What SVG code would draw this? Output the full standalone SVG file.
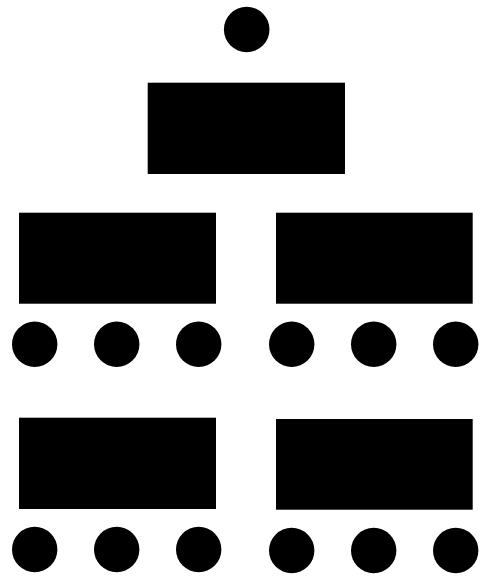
<svg xmlns="http://www.w3.org/2000/svg" width="490" height="576" viewBox="0 0 490 576">
<style>
.n{fill:#000;stroke:none}
</style>
<rect width="490" height="576" fill="#fff"/>
<g id="connectors"></g>
<g id="top-circle"><circle class="n" cx="246.7" cy="29.5" r="22.8"/></g>
<g id="root"><rect class="n" x="147.7" y="82.7" width="197.3" height="91.3"/></g>
<g id="mid-left"><rect class="n" x="19" y="212.7" width="197" height="91"/></g>
<g id="mid-right"><rect class="n" x="276" y="212.7" width="196.7" height="91"/></g>
<g id="c1"><circle class="n" cx="34.7" cy="344.2" r="22.7"/></g>
<g id="c2"><circle class="n" cx="116.7" cy="344.2" r="22.7"/></g>
<g id="c3"><circle class="n" cx="198.7" cy="344.2" r="22.7"/></g>
<g id="c4"><circle class="n" cx="291.7" cy="344.2" r="22.7"/></g>
<g id="c5"><circle class="n" cx="373.7" cy="344.2" r="22.7"/></g>
<g id="c6"><circle class="n" cx="455.7" cy="344.2" r="22.7"/></g>
<g id="bot-left"><rect class="n" x="19" y="417.7" width="197" height="91.3"/></g>
<g id="bot-right"><rect class="n" x="276" y="419" width="196.7" height="90.7"/></g>
<g id="c7"><circle class="n" cx="34.7" cy="549.5" r="22.7"/></g>
<g id="c8"><circle class="n" cx="116.7" cy="549.5" r="22.7"/></g>
<g id="c9"><circle class="n" cx="198.7" cy="549.5" r="22.7"/></g>
<g id="c10"><circle class="n" cx="291.7" cy="550.5" r="22.7"/></g>
<g id="c11"><circle class="n" cx="373.7" cy="550.5" r="22.7"/></g>
<g id="c12"><circle class="n" cx="455.7" cy="550.5" r="22.7"/></g>
</svg>
